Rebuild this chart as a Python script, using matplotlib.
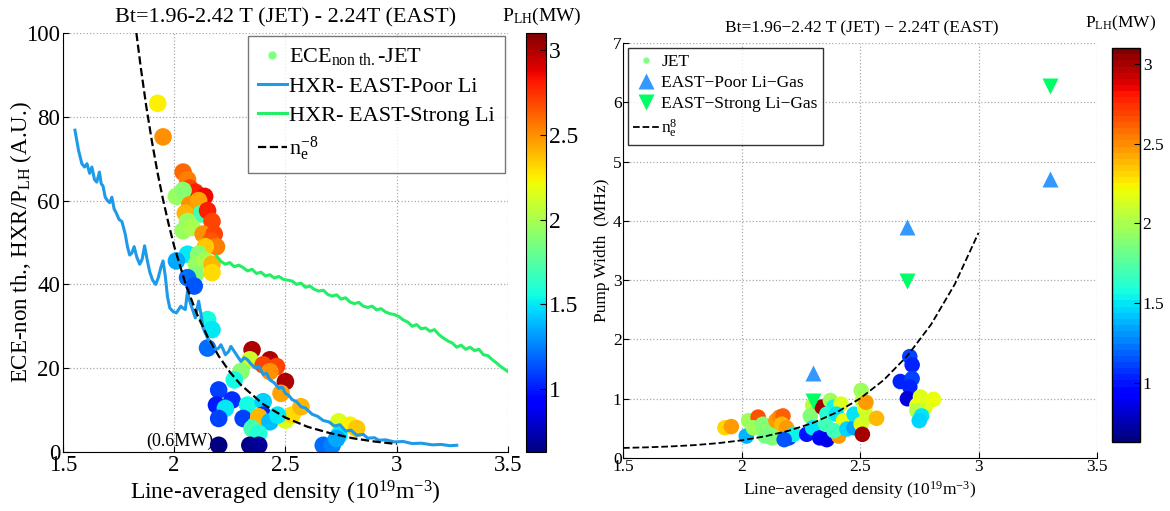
import numpy as np
import matplotlib
matplotlib.use('Agg')
import matplotlib.pyplot as plt
from matplotlib.colors import Normalize
from matplotlib.lines import Line2D

# 字體：Times 風格
plt.rcParams['font.family'] = ['Liberation Serif', 'DejaVu Serif']
plt.rcParams['mathtext.fontset'] = 'custom'
plt.rcParams['mathtext.rm'] = 'Liberation Serif'
plt.rcParams['mathtext.it'] = 'Liberation Serif:italic'

# ---------------- 左圖資料 ----------------
# JET ECE 非熱 (密度, 數值, P_LH)
jet_left_x = [1.926, 1.95, 2.04, 2.06, 2.07, 2.095, 2.137, 2.01, 2.04, 2.07, 2.11, 2.12,
              2.15, 2.05, 2.06, 2.17, 2.04, 2.08, 2.13, 2.18, 2.165, 2.19, 2.14, 2.06,
              2.01, 2.11, 2.10, 2.14, 2.17, 2.17, 2.095, 2.06, 2.09, 2.15, 2.17, 2.15,
              2.35, 2.34, 2.43, 2.40, 2.46, 2.43, 2.30, 2.27, 2.50, 2.48, 2.20, 2.19,
              2.26, 2.23, 2.20, 2.33, 2.40, 2.31, 2.40, 2.365, 2.38, 2.43, 2.50, 2.53,
              2.57, 2.465, 2.35, 2.38, 2.74, 2.79, 2.82, 2.74, 2.20, 2.34, 2.38, 2.67,
              2.71, 2.73]
jet_left_y = [83.2, 75.2, 66.8, 65.0, 63.0, 62.0, 61.0, 61.0, 62.4, 59.0, 60.0, 56.8,
              57.6, 57.0, 55.0, 55.0, 52.8, 53.6, 52.0, 52.0, 50.4, 49.0, 49.0, 47.2,
              45.6, 47.2, 44.8, 45.6, 44.8, 42.8, 42.4, 41.6, 39.6, 31.6, 29.2, 24.8,
              24.4, 22.0, 22.0, 20.8, 20.4, 19.2, 19.2, 17.2, 16.8, 14.0, 14.8, 11.2,
              12.4, 10.4, 8.0, 11.2, 12.0, 8.0, 8.8, 6.4, 8.4, 7.2, 7.6, 8.8,
              10.8, 8.8, 5.6, 4.4, 7.2, 6.4, 5.6, 4.0, 1.6, 1.6, 1.6, 1.6,
              1.6, 3.2]
jet_left_p = [2.25, 2.5, 2.6, 2.55, 2.7, 2.8, 2.85, 1.95, 1.9, 2.5, 2.45, 1.7,
              2.8, 2.4, 1.95, 2.7, 1.95, 2.0, 2.5, 2.7, 2.65, 2.55, 2.35, 1.5,
              1.35, 1.9, 1.95, 2.0, 2.4, 2.3, 1.9, 1.2, 1.15, 1.55, 1.5, 1.2,
              3.0, 2.1, 3.0, 2.7, 2.7, 2.5, 1.9, 1.55, 3.0, 2.45, 1.1, 1.0,
              1.05, 1.5, 1.1, 1.55, 1.45, 1.1, 1.05, 1.65, 2.4, 1.4, 2.15, 2.3,
              2.4, 1.5, 1.7, 1.6, 2.15, 2.25, 2.35, 1.5, 0.62, 0.65, 0.68, 1.2,
              1.25, 1.35]

# HXR EAST - Poor Li
poor_li_x = [1.554, 1.57, 1.585, 1.597, 1.608, 1.62, 1.63, 1.642, 1.652, 1.664,
             1.672, 1.68, 1.69, 1.70, 1.71, 1.72, 1.73, 1.74, 1.752, 1.765,
             1.78, 1.79, 1.80, 1.81, 1.82, 1.832, 1.845, 1.856, 1.867, 1.878,
             1.89, 1.903, 1.917, 1.928, 1.94, 1.95, 1.96, 1.97, 1.98, 1.995,
             2.01, 2.02, 2.03, 2.04, 2.05, 2.06, 2.07, 2.08, 2.095, 2.11,
             2.12, 2.13, 2.15, 2.17, 2.19, 2.20, 2.21, 2.22, 2.23, 2.245,
             2.255, 2.27, 2.28, 2.30, 2.315, 2.33, 2.345, 2.365, 2.38, 2.40,
             2.415, 2.43, 2.45, 2.47, 2.485, 2.50, 2.515, 2.53, 2.55, 2.57,
             2.59, 2.62, 2.645, 2.67, 2.695, 2.72, 2.745, 2.77, 2.795, 2.82,
             2.85, 2.87, 2.90, 2.92, 2.95, 2.99, 3.03, 3.07, 3.11, 3.16,
             3.20, 3.24, 3.27]
poor_li_y = [76.8, 72.0, 68.8, 68.0, 68.8, 66.5, 68.0, 65.0, 64.4, 66.8,
             64.0, 63.5, 60.8, 60.0, 59.5, 60.8, 58.0, 57.0, 55.5, 55.0,
             52.0, 49.0, 47.0, 47.5, 49.0, 46.5, 44.8, 46.0, 49.2, 46.0,
             43.0, 41.0, 40.0, 41.5, 44.0, 45.6, 42.0, 37.0, 34.4, 33.5,
             33.2, 34.0, 34.8, 34.3, 34.0, 38.4, 36.0, 34.4, 32.0, 36.0,
             33.0, 29.6, 27.2, 25.6, 24.5, 24.8, 25.6, 24.5, 23.2, 24.0,
             25.2, 24.0, 23.2, 21.6, 22.5, 22.0, 21.0, 20.0, 20.5, 18.5,
             18.8, 17.2, 16.5, 15.2, 15.5, 14.0, 13.5, 12.5, 12.0, 10.8,
             10.5, 9.0, 8.5, 7.5, 7.2, 6.2, 6.5, 5.0, 5.2, 4.0,
             4.2, 3.3, 3.4, 2.8, 2.9, 2.4, 2.5, 2.0, 2.1, 1.7,
             1.8, 1.5, 1.6]

# HXR EAST - Strong Li
strong_li_x = [2.19, 2.21, 2.23, 2.25, 2.27, 2.29, 2.31, 2.33, 2.35, 2.37,
               2.39, 2.41, 2.43, 2.45, 2.47, 2.49, 2.51, 2.53, 2.55, 2.57,
               2.59, 2.61, 2.63, 2.65, 2.67, 2.69, 2.71, 2.73, 2.75, 2.77,
               2.79, 2.81, 2.83, 2.85, 2.87, 2.89, 2.91, 2.93, 2.95, 2.97,
               2.99, 3.01, 3.03, 3.05, 3.07, 3.09, 3.11, 3.13, 3.15, 3.17,
               3.19, 3.21, 3.23, 3.25, 3.27, 3.29, 3.31, 3.33, 3.35, 3.37,
               3.39, 3.41, 3.43, 3.45, 3.47, 3.50]
strong_li_y = [46.8, 45.5, 44.8, 45.2, 44.2, 44.6, 44.0, 43.2, 43.6, 42.6,
               42.9, 42.0, 42.3, 41.5, 41.9, 41.2, 41.0, 40.8, 40.0, 40.3,
               39.3, 39.6, 38.8, 38.4, 38.6, 37.6, 37.2, 37.5, 36.5, 36.8,
               35.8, 35.4, 35.7, 34.8, 34.5, 34.8, 33.9, 34.2, 33.4, 33.0,
               32.8, 32.3, 31.5, 31.0, 30.0, 30.4, 29.4, 29.6, 28.8, 29.2,
               28.0, 27.2, 26.5, 26.0, 25.0, 25.5, 24.5, 25.0, 24.2, 24.5,
               23.2, 23.0, 22.0, 21.2, 20.3, 19.2]

# n_e^-8 曲線
fit_left_x = [1.83, 1.85, 1.875, 1.9, 1.925, 1.95, 1.975, 2.0, 2.05, 2.1, 2.15, 2.2,
              2.25, 2.3, 2.4, 2.5, 2.6, 2.7, 2.8, 2.9, 3.0]
fit_left_y = [100.0, 91.7, 82.3, 74.1, 66.7, 60.2, 54.4, 49.1, 40.3, 33.2, 27.5, 22.9,
              19.1, 16.0, 11.4, 8.2, 6.0, 4.5, 3.3, 2.5, 1.9]

# ---------------- 右圖資料 ----------------
jet_right_x = [1.93, 1.957, 2.02, 2.03, 2.07, 2.05, 2.09, 2.11, 2.13, 2.145, 2.16, 2.175,
               2.17, 2.13, 2.10, 2.19, 2.20, 2.22, 2.18, 2.275, 2.30, 2.29, 2.30, 2.33,
               2.36, 2.34, 2.375, 2.39, 2.36, 2.355, 2.42, 2.40, 2.43, 2.41, 2.39, 2.445,
               2.475, 2.475, 2.505, 2.51, 2.52, 2.505, 2.53, 2.51, 2.525, 2.57,
               2.71, 2.72, 2.67, 2.72, 2.71, 2.70, 2.755, 2.74, 2.775, 2.81, 2.74, 2.76, 2.75]
jet_right_y = [0.51, 0.53, 0.37, 0.63, 0.69, 0.51, 0.57, 0.43, 0.49, 0.63, 0.69, 0.71,
               0.57, 0.34, 0.37, 0.51, 0.34, 0.40, 0.31, 0.40, 0.89, 0.71, 0.51, 0.34,
               0.31, 0.86, 0.97, 0.86, 0.74, 0.57, 0.91, 0.74, 0.63, 0.37, 0.46, 0.49,
               0.51, 0.74, 1.14, 0.97, 0.83, 0.57, 0.69, 0.40, 0.94, 0.67,
               1.71, 1.57, 1.29, 1.34, 1.20, 1.00, 1.03, 0.89, 0.86, 0.99, 0.80, 0.71, 0.63]
jet_right_p = [2.3, 2.45, 1.4, 1.95, 2.65, 1.95, 1.9, 1.95, 1.9, 2.45, 2.5, 2.6,
               2.4, 1.9, 1.85, 2.45, 1.1, 1.55, 1.15, 1.0, 2.05, 1.9, 1.5, 0.95,
               0.9, 3.0, 1.95, 1.55, 1.6, 1.7, 2.15, 1.5, 2.2, 2.45, 1.7, 1.45,
               1.35, 1.5, 1.95, 2.05, 2.15, 2.15, 2.1, 3.0, 2.45, 2.4,
               1.1, 1.05, 1.05, 1.1, 1.05, 0.85, 2.15, 2.2, 2.15, 2.2, 2.05, 1.5, 1.45]

poor_gas_x = [2.3, 2.7, 3.3]
poor_gas_y = [1.43, 3.9, 4.7]
strong_gas_x = [2.3, 2.7, 3.3]
strong_gas_y = [0.97, 2.98, 6.28]

fit_right_x = [1.5, 1.6, 1.7, 1.8, 1.9, 2.0, 2.1, 2.2, 2.3, 2.4, 2.5, 2.6, 2.7, 2.8, 2.9, 3.0]
fit_right_y = [0.17, 0.18, 0.195, 0.217, 0.25, 0.298, 0.366, 0.461, 0.59, 0.767, 1.003,
               1.315, 1.724, 2.253, 2.932, 3.797]

cmap = plt.get_cmap('jet', 64)
norm = Normalize(vmin=0.63, vmax=3.1)
poor_color = '#1e9be8'
strong_color = '#22ee66'

fig = plt.figure(figsize=(11.7, 5.11), dpi=100)

# ===== 左圖 =====
ax1 = fig.add_axes([0.0538, 0.1155, 0.3803, 0.820])
ax1.plot(poor_li_x, poor_li_y, color=poor_color, lw=2.2, zorder=3)
ax1.plot(strong_li_x, strong_li_y, color=strong_color, lw=2.2, zorder=3)
ax1.scatter(jet_left_x, jet_left_y, c=jet_left_p, cmap='jet', norm=norm, s=160,
            edgecolors='none', zorder=2)
ax1.plot(fit_left_x, fit_left_y, 'k--', lw=1.6, zorder=4)
ax1.text(2.175, 2.5, '(0.6MW)', fontsize=13, ha='right', va='center', zorder=1)

ax1.set_xlim(1.5, 3.5)
ax1.set_ylim(0, 100)
ax1.set_xticks([1.5, 2, 2.5, 3, 3.5])
ax1.set_xticklabels(['1.5', '2', '2.5', '3', '3.5'])
ax1.set_yticks([0, 20, 40, 60, 80, 100])
ax1.tick_params(direction='in', labelsize=16.5, length=4, pad=2)
ax1.grid(True, linestyle=':', color='#aaaaaa', lw=0.9)
for s in ['top', 'right']:
    ax1.spines[s].set_visible(False)
ax1.set_xlabel(r'Line-averaged density (10$^{19}$m$^{-3}$)', fontsize=17, labelpad=2)
ax1.set_ylabel(r'ECE-non th., HXR/P$_{\mathrm{LH}}$ (A.U.)', fontsize=16.5)
ax1.yaxis.set_label_coords(-0.066, 0.5)
fig.text(0.2444, 0.965, 'Bt=1.96-2.42 T (JET) - 2.24T (EAST)', fontsize=16,
         ha='center', va='center')

h1 = [Line2D([], [], marker='o', color='#80ff80', ls='none', ms=5),
      Line2D([], [], color=poor_color, lw=2.2),
      Line2D([], [], color=strong_color, lw=2.2),
      Line2D([], [], color='k', ls='--', lw=1.6)]
l1 = [r'ECE$_{\mathrm{non\ th.}}$-JET', 'HXR- EAST-Poor Li', 'HXR- EAST-Strong Li',
      r'n$_{\mathrm{e}}^{-8}$']
leg1 = ax1.legend(h1, l1, loc='upper right', fontsize=16, frameon=True, fancybox=False,
                  edgecolor='#555555', handlelength=1.3, handletextpad=0.1,
                  borderaxespad=0.15, labelspacing=0.4, borderpad=0.45)
leg1.get_frame().set_linewidth(1.0)

cax1 = fig.add_axes([0.4496, 0.1155, 0.0171, 0.820])
cb1 = fig.colorbar(plt.cm.ScalarMappable(norm=norm, cmap='jet'), cax=cax1)
cb1.set_ticks([1, 1.5, 2, 2.5, 3])
cb1.ax.set_yticklabels(['1', '1.5', '2', '2.5', '3'])
cb1.ax.tick_params(labelsize=17, direction='in', length=4, pad=2)
cb1.outline.set_linewidth(0.8)
fig.text(0.463, 0.968, r'P$_{\mathrm{LH}}$(MW)', fontsize=14, ha='center', va='center')

# ===== 右圖 =====
ax2 = fig.add_axes([0.5325, 0.1037, 0.4051, 0.8121])
ax2.scatter(jet_right_x, jet_right_y, c=jet_right_p, cmap=cmap, norm=norm, s=125,
            edgecolors='none', zorder=2)
ax2.plot(poor_gas_x, poor_gas_y, '^', color='#3399ff', ms=12, mec='none', zorder=3)
ax2.plot(strong_gas_x, strong_gas_y, 'v', color='#00ff66', ms=12, mec='none', zorder=3)
ax2.plot(fit_right_x, fit_right_y, 'k--', lw=1.3, zorder=4)

ax2.set_xlim(1.5, 3.5)
ax2.set_ylim(0, 7)
ax2.set_xticks([1.5, 2, 2.5, 3, 3.5])
ax2.set_xticklabels(['1.5', '2', '2.5', '3', '3.5'])
ax2.set_yticks(range(8))
ax2.tick_params(direction='in', labelsize=12.5, length=4, pad=1)
ax2.grid(True, linestyle=':', color='#aaaaaa', lw=0.9)
for s in ['top', 'right']:
    ax2.spines[s].set_visible(False)
ax2.set_xlabel('Line\u2212averaged density (10$^{19}$m$^{\u22123}$)', fontsize=12.5,
               labelpad=3)
ax2.set_ylabel('Pump Width  (MHz)', fontsize=12.5, labelpad=2)
fig.text(0.7365, 0.945, 'Bt=1.96\u22122.42 T (JET) \u2212 2.24T (EAST)', fontsize=12.5,
         ha='center', va='center')

h2 = [Line2D([], [], marker='o', color='#80ff80', ls='none', ms=3.5),
      Line2D([], [], marker='^', color='#3399ff', ls='none', ms=12, mec='none'),
      Line2D([], [], marker='v', color='#00ff66', ls='none', ms=12, mec='none'),
      Line2D([], [], color='k', ls='--', lw=1.3)]
l2 = ['JET', 'EAST\u2212Poor Li\u2212Gas', 'EAST\u2212Strong Li\u2212Gas',
      r'n$_{\mathrm{e}}^{8}$']
leg2 = ax2.legend(h2, l2, loc='upper left', fontsize=12.5, frameon=True, fancybox=False,
                  edgecolor='k', handlelength=1.5, handletextpad=0.1,
                  borderaxespad=0.3, labelspacing=0.3, borderpad=0.3)
leg2.get_frame().set_linewidth(1.0)

cax2 = fig.add_axes([0.9504, 0.135, 0.0239, 0.771])
cb2 = fig.colorbar(plt.cm.ScalarMappable(norm=norm, cmap=cmap), cax=cax2)
cb2.set_ticks([1, 1.5, 2, 2.5, 3])
cb2.ax.set_yticklabels(['1', '1.5', '2', '2.5', '3'])
cb2.ax.tick_params(labelsize=12.5, direction='in', length=4, pad=2)
cb2.outline.set_linewidth(1.0)
fig.text(0.958, 0.955, r'P$_{\mathrm{LH}}$(MW)', fontsize=12.5, ha='center', va='center')

fig.savefig('out.png', dpi=100)
